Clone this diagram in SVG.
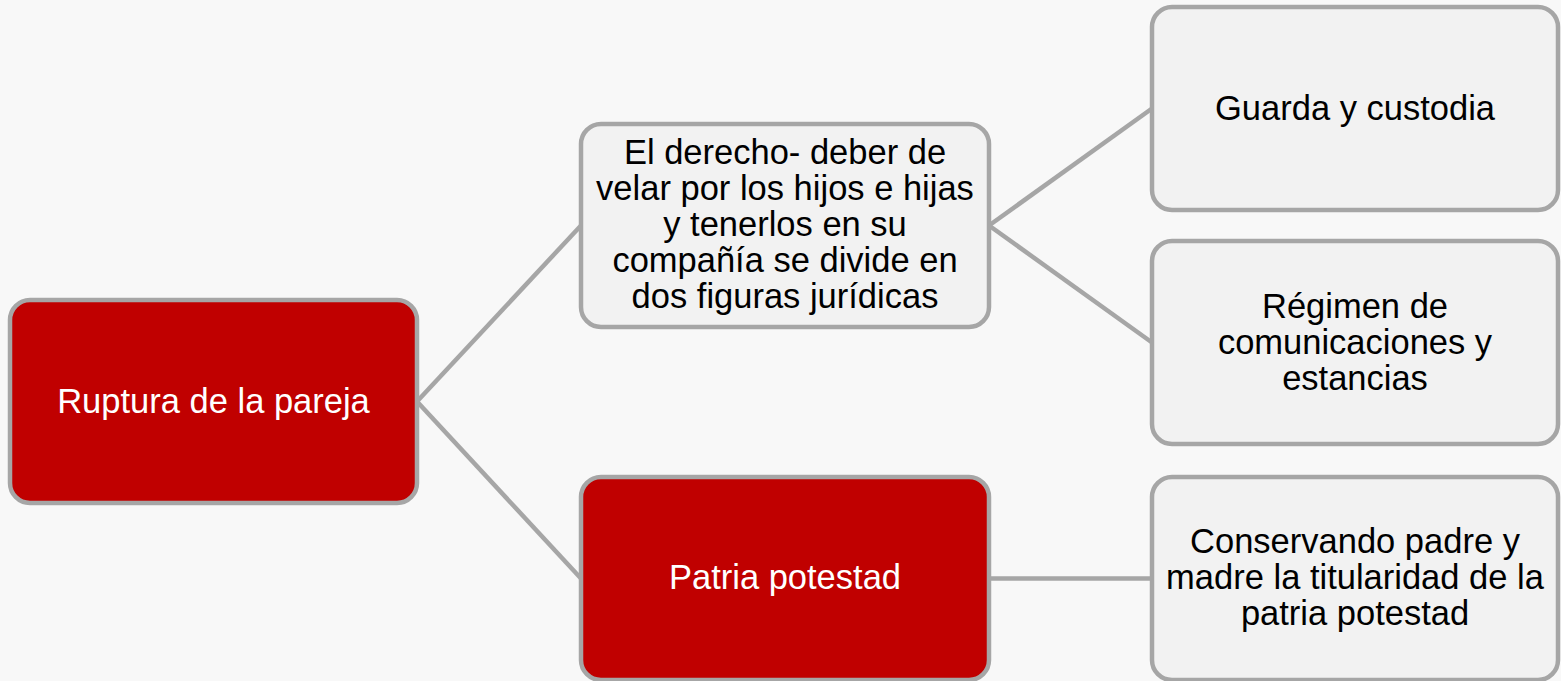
<svg xmlns="http://www.w3.org/2000/svg" width="1561" height="681" viewBox="0 0 1561 681">
<style>
.box{stroke:#a6a6a6;stroke-width:4.5}
.red{fill:#c00000}
.grey{fill:#f2f2f2}
.t{font-family:"Liberation Sans",Arial,sans-serif;font-size:34.5px;text-anchor:middle}
.w{fill:#ffffff}
.k{fill:#000000}
.c{stroke:#a6a6a6;stroke-width:4.5;fill:none}
</style>
<rect width="1561" height="681" fill="#f8f8f8"/>
<g id="connectors">
<line class="c" x1="417" y1="401.5" x2="581" y2="225.5"/>
<line class="c" x1="417" y1="401.5" x2="581" y2="578.5"/>
<line class="c" x1="989" y1="225.5" x2="1152" y2="108.5"/>
<line class="c" x1="989" y1="225.5" x2="1152" y2="342.5"/>
<line class="c" x1="989" y1="578.5" x2="1152" y2="578.5"/>
</g>
<g id="root">
<rect class="box red" x="10" y="300" width="407" height="203" rx="20"/>
<text class="t w" x="213.5" y="413">Ruptura de la pareja</text>
</g>
<g id="derecho">
<rect class="box grey" x="581" y="124" width="408" height="203" rx="20"/>
<text class="t k" x="785" y="164">El derecho- deber de</text>
<text class="t k" x="785" y="200">velar por los hijos e hijas</text>
<text class="t k" x="785" y="236">y tenerlos en su</text>
<text class="t k" x="785" y="272">compañía se divide en</text>
<text class="t k" x="785" y="308">dos figuras jurídicas</text>
</g>
<g id="patria">
<rect class="box red" x="581" y="477" width="408" height="203" rx="20"/>
<text class="t w" x="785" y="589">Patria potestad</text>
</g>
<g id="guarda">
<rect class="box grey" x="1152" y="7" width="406" height="203" rx="20"/>
<text class="t k" x="1355" y="119.5">Guarda y custodia</text>
</g>
<g id="regimen">
<rect class="box grey" x="1152" y="241" width="406" height="203" rx="20"/>
<text class="t k" x="1355" y="317.5">Régimen de</text>
<text class="t k" x="1355" y="353.5">comunicaciones y</text>
<text class="t k" x="1355" y="389.5">estancias</text>
</g>
<g id="conservando">
<rect class="box grey" x="1152" y="477" width="406" height="203" rx="20"/>
<text class="t k" x="1355" y="553">Conservando padre y</text>
<text class="t k" x="1355" y="589">madre la titularidad de la</text>
<text class="t k" x="1355" y="625">patria potestad</text>
</g>
</svg>
